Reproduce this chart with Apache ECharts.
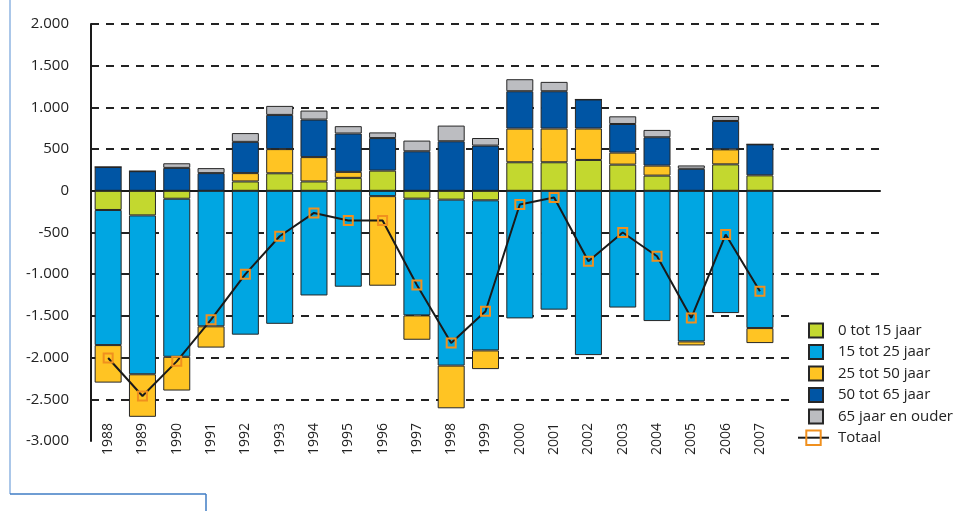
<!DOCTYPE html>
<html>
<head>
<meta charset="utf-8">
<script src="https://cdn.jsdelivr.net/npm/echarts@6/dist/echarts.min.js"></script>
<style>
html, body { margin: 0; padding: 0; background: #fff; }
#chart { width: 968px; height: 511px; }
</style>
</head>
<body>
<div id="chart"></div>
<script>
var years = ['1988', '1989', '1990', '1991', '1992', '1993', '1994', '1995', '1996', '1997',
             '1998', '1999', '2000', '2001', '2002', '2003', '2004', '2005', '2006', '2007'];

var seriesNames = ['0 tot 15 jaar', '15 tot 25 jaar', '25 tot 50 jaar', '50 tot 65 jaar', '65 jaar en ouder'];

var age0to15  = [-230, -295, -95, 0, 112, 210, 112, 155, 242, -94, -106, -114, 342, 342, 370, 314, 182, 0, 317, 185];
var age15to25 = [-1620, -1905, -1895, -1625, -1725, -1595, -1255, -1150, -64, -1400, -1990, -1800, -1530, -1425, -1970, -1400, -1562, -1806, -1466, -1646];
var age25to50 = [-450, -510, -405, -255, 100, 290, 292, 72, -1074, -292, -512, -224, 404, 404, 377, 144, 120, -48, 180, -180];
var age50to65 = [285, 235, 275, 212, 375, 410, 450, 460, 390, 474, 594, 542, 448, 448, 348, 343, 340, 264, 340, 372];
var age65plus = [0, 0, 55, 60, 105, 108, 108, 88, 68, 128, 188, 91, 144, 112, 0, 92, 88, 40, 60, 0];
var totaal    = [-2005, -2460, -2045, -1545, -1000, -545, -265, -355, -355, -1130, -1825, -1445, -165, -80, -845, -500, -785, -1525, -525, -1205];

var colors = ['#c3d82f', '#00a6e2', '#ffc423', '#0055a4', '#bcbdc1'];

// three empty slots on the right, the plot runs on past 2007
var cats = years.concat(['', '', '']);

function fmt(v) {
    var s = String(Math.abs(v));
    if (s.length > 3) s = s.slice(0, s.length - 3) + '.' + s.slice(s.length - 3);
    return (v < 0 ? '-' : '') + s;
}

var font = 'Open Sans';
var dataSets = [age0to15, age15to25, age25to50, age50to65, age65plus];

var series = dataSets.map(function (d, i) {
    return {
        name: seriesNames[i],
        type: 'bar',
        stack: 'leeftijd',
        barWidth: 27,
        xAxisIndex: 0,
        itemStyle: {
            color: colors[i],
            borderColor: '#262626',
            borderWidth: 1
        },
        data: d
    };
});

series.push({
    name: 'Totaal',
    type: 'line',
    xAxisIndex: 0,
    symbol: 'rect',
    symbolSize: 9,
    z: 5,
    lineStyle: { color: '#1a1a1a', width: 2 },
    itemStyle: { color: 'rgba(0,0,0,0)', borderColor: '#f0901e', borderWidth: 2 },
    data: totaal
});

var gridColors = [];
for (var k = -3000; k <= 2000; k += 500) {
    gridColors.push(k === -3000 || k === 0 ? 'rgba(0,0,0,0)' : '#222');
}

var chart = echarts.init(document.getElementById('chart'));
chart.setOption({
    animation: false,
    backgroundColor: '#fff',
    textStyle: { fontFamily: font },
    grid: {
        left: 91,
        right: 88,
        top: 24,
        bottom: 70
    },
    legend: [
        {
            data: seriesNames,
            orient: 'vertical',
            left: 790,
            top: 312.5,
            padding: [10, 10, 10, 18],
            backgroundColor: '#fff',
            icon: 'rect',
            itemWidth: 14,
            itemHeight: 14,
            itemGap: 5.5,
            textStyle: { fontFamily: font, fontSize: 15, color: '#222', lineHeight: 14, padding: [0, 0, 0, 10] }
        },
        {
            data: ['Totaal'],
            orient: 'vertical',
            left: 792,
            top: 424.5,
            padding: 5,
            itemWidth: 31,
            itemHeight: 18,
            textStyle: { fontFamily: font, fontSize: 15, color: '#222', padding: [0, 0, 0, 4] }
        }
    ],
    xAxis: [
        {
            type: 'category',
            data: cats,
            position: 'bottom',
            axisLine: { onZero: true, lineStyle: { color: '#1a1a1a', width: 2 } },
            axisTick: { show: false },
            axisLabel: { show: false },
            splitLine: { show: false }
        },
        {
            type: 'category',
            data: cats,
            position: 'bottom',
            axisLine: { show: false, onZero: false },
            axisTick: { show: false },
            axisLabel: {
                rotate: 90,
                margin: -18,
                interval: 0,
                fontFamily: font,
                fontSize: 14,
                color: '#222'
            },
            splitLine: { show: false }
        }
    ],
    yAxis: {
        type: 'value',
        min: -3000,
        max: 2000,
        interval: 500,
        axisLine: { show: true, lineStyle: { color: '#1a1a1a', width: 2 } },
        axisTick: { show: false },
        axisLabel: {
            margin: 22,
            fontFamily: font,
            fontSize: 15,
            color: '#222',
            formatter: fmt
        },
        splitLine: {
            show: true,
            lineStyle: { type: [8, 7], width: 2, color: gridColors }
        }
    },
    graphic: [
        { type: 'line', shape: { x1: 10, y1: 0, x2: 10, y2: 494 }, style: { stroke: '#8fb4e2', lineWidth: 1.5 } },
        { type: 'line', shape: { x1: 10, y1: 494, x2: 206, y2: 494 }, style: { stroke: '#3f7cc4', lineWidth: 1.5 } },
        { type: 'line', shape: { x1: 206, y1: 494, x2: 206, y2: 511 }, style: { stroke: '#3f7cc4', lineWidth: 1.5 } }
    ],
    series: series
});
</script>
</body>
</html>
